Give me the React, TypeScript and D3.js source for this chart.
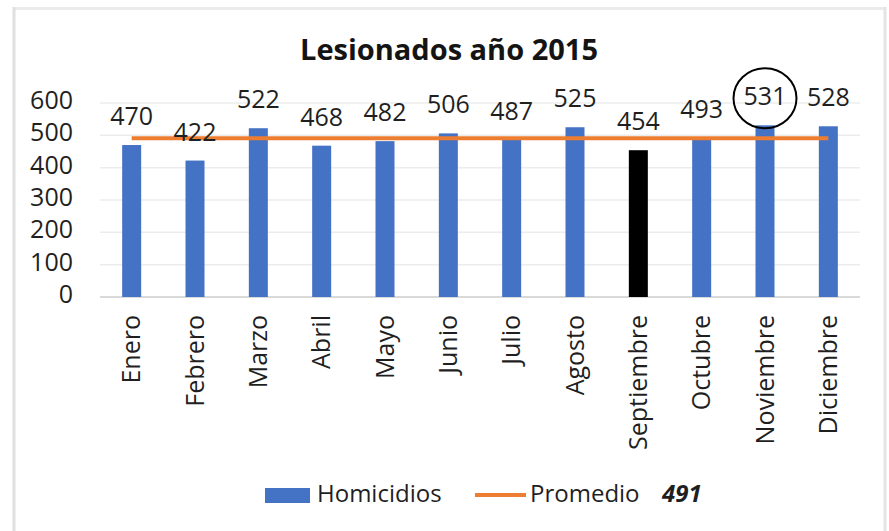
import React from 'react';
import * as d3 from 'd3';

const months = ['Enero', 'Febrero', 'Marzo', 'Abril', 'Mayo', 'Junio', 'Julio', 'Agosto', 'Septiembre', 'Octubre', 'Noviembre', 'Diciembre'];
const homicidios = [470, 422, 522, 468, 482, 506, 487, 525, 454, 493, 531, 528];
const promedio = 491;
const yTicks = [0, 100, 200, 300, 400, 500, 600];
const highlightMonth = 'Septiembre';
const circledMonth = 'Noviembre';

const FONT = '"Open Sans", sans-serif';
const W = 889;
const H = 531;

const App = () => {
  const x = d3.scaleBand<string>().domain(months).range([100, 860]).paddingInner(0.7).paddingOuter(0.35);
  const y = d3.scaleLinear().domain([0, 600]).range([297, 103]);
  const cx = (m: string) => (x(m) || 0) + x.bandwidth() / 2;

  const avgLine = d3.line<string>().x(d => cx(d)).y(() => y(promedio));
  const avgPath = avgLine([months[0], months[months.length - 1]]);

  const circled = months.indexOf(circledMonth);

  return (
    <div style={{ position: 'fixed', left: 0, top: 0, background: '#fff' }}>
      <svg width={W} height={H} style={{ display: 'block', fontFamily: FONT }}>
        <rect width={W} height={H} fill="#fff" />
        {/* frame */}
        <line x1={14} y1={8.5} x2={886} y2={8.5} stroke="#ebebeb" strokeWidth={3} />
        <line x1={14} y1={7} x2={14} y2={H} stroke="#e0e0e0" strokeWidth={3} />
        <line x1={885} y1={7} x2={885} y2={H} stroke="#e4e4e4" strokeWidth={3} />

        <text x={449} y={60} textAnchor="middle" fontSize={29} fontWeight="bold" fill="#141414">
          Lesionados año 2015
        </text>

        {/* grid + y labels */}
        {yTicks.map(t => (
          <g key={t}>
            <line x1={100} x2={860} y1={y(t)} y2={y(t)} stroke={t === 0 ? '#d9d9d9' : '#ececec'} strokeWidth={t === 0 ? 2 : 1.5} />
            <text x={73} y={y(t) + 6} textAnchor="end" fontSize={25} fill="#1f1f1f">{t}</text>
          </g>
        ))}

        {/* bars */}
        {months.map((m, i) => (
          <rect
            key={m}
            x={x(m)}
            y={y(homicidios[i])}
            width={x.bandwidth()}
            height={y(0) - y(homicidios[i])}
            fill={m === highlightMonth ? '#000000' : '#4472C4'}
          />
        ))}

        {/* average line */}
        <path d={avgPath || ''} fill="none" stroke="#ED7D31" strokeWidth={4} />

        {/* data labels */}
        {months.map((m, i) => (
          <text key={m} x={cx(m)} y={y(homicidios[i]) - 20} textAnchor="middle" fontSize={25} fill="#1f1f1f">
            {homicidios[i]}
          </text>
        ))}

        {/* circle annotation */}
        <ellipse
          cx={cx(circledMonth)}
          cy={y(homicidios[circled]) - 27}
          rx={31.5}
          ry={30}
          fill="none"
          stroke="#000"
          strokeWidth={2}
        />

        {/* month labels */}
        {months.map(m => (
          <text
            key={m}
            transform={`translate(${cx(m)},315) rotate(-90)`}
            textAnchor="end"
            dy="0.35em"
            fontSize={25}
            fill="#1f1f1f"
          >
            {m}
          </text>
        ))}

        {/* legend */}
        <rect x={265} y={488} width={45} height={15} fill="#4472C4" />
        <text x={317} y={502} fontSize={24} fill="#1f1f1f">Homicidios</text>
        <line x1={475} x2={526} y1={495} y2={495} stroke="#ED7D31" strokeWidth={4} />
        <text x={530} y={502} fontSize={24} fill="#1f1f1f">Promedio</text>
        <text x={662} y={502} fontSize={24} fontWeight="bold" fontStyle="italic" fill="#1f1f1f">{promedio}</text>
      </svg>
    </div>
  );
};

export default App;
